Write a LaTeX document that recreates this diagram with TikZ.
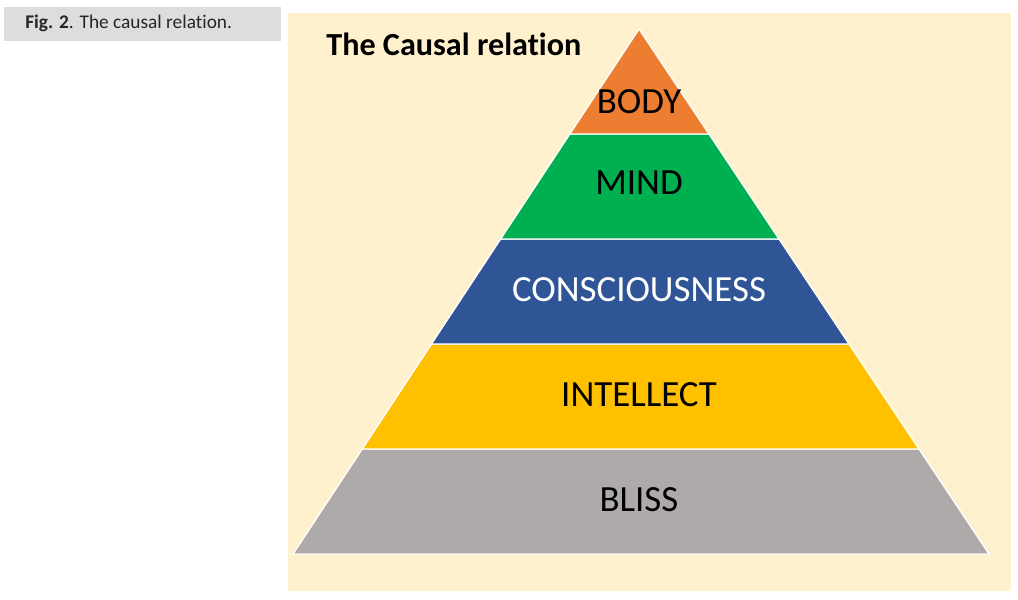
\documentclass[tikz,border=0pt]{standalone}
\usepackage{fontspec}
\setmainfont{Carlito}[Ligatures=CommonOff]
\usetikzlibrary{calc}
\definecolor{panel}{HTML}{FFF1CE}
\definecolor{capgray}{HTML}{DDDDDD}
\definecolor{bodyc}{HTML}{ED7D31}
\definecolor{mindc}{HTML}{00B050}
\definecolor{consc}{HTML}{2F5597}
\definecolor{intc}{HTML}{FFC000}
\definecolor{blissc}{HTML}{AEAAAA}
\tikzstyle{layer}=[draw=white, line width=0.8pt, line join=miter]
\tikzstyle{level}=[font=\fontsize{21}{23}\selectfont, inner sep=0pt]

\begin{document}
\begin{tikzpicture}
    \useasboundingbox (0, 0) rectangle (20.36, 11.98);

    % caption and panel
    \fill[capgray] (0.08, 11.16) rectangle (5.62, 11.84);
    \node[anchor=west, inner sep=0pt, text=black!85, font=\fontsize{11}{13}\selectfont] (caption) at (0.50, 11.52) {\textbf{Fig. 2}. The causal relation.};
    \fill[panel] (5.76, 0.16) rectangle (20.22, 11.72);
    \node[anchor=west, inner sep=0pt, font=\bfseries\fontsize{18.3}{20}\selectfont] (title) at (6.52, 11.10) {The Causal relation};

    % pyramid corners
    \coordinate (apex) at (12.78, 11.40);
    \coordinate (bl) at (5.86, 0.90);
    \coordinate (br) at (19.78, 0.90);

    \coordinate (l1) at ($(apex)!0.2!(bl)$);
    \coordinate (r1) at ($(apex)!0.2!(br)$);
    \coordinate (l2) at ($(apex)!0.4!(bl)$);
    \coordinate (r2) at ($(apex)!0.4!(br)$);
    \coordinate (l3) at ($(apex)!0.6!(bl)$);
    \coordinate (r3) at ($(apex)!0.6!(br)$);
    \coordinate (l4) at ($(apex)!0.8!(bl)$);
    \coordinate (r4) at ($(apex)!0.8!(br)$);

    \filldraw[layer, fill=blissc] (l4) -- (r4) -- (br) -- (bl) -- cycle;
    \filldraw[layer, fill=intc] (l3) -- (r3) -- (r4) -- (l4) -- cycle;
    \filldraw[layer, fill=consc] (l2) -- (r2) -- (r3) -- (l3) -- cycle;
    \filldraw[layer, fill=mindc] (l1) -- (r1) -- (r2) -- (l2) -- cycle;
    \filldraw[layer, fill=bodyc] (apex) -- (r1) -- (l1) -- cycle;

    \node[level] (body) at (12.78, 9.94) {BODY};
    \node[level] (mind) at (12.78, 8.32) {MIND};
    \node[level, text=white] (consciousness) at (12.78, 6.18) {CONSCIOUSNESS};
    \node[level] (intellect) at (12.78, 4.08) {INTELLECT};
    \node[level] (bliss) at (12.78, 1.98) {BLISS};
\end{tikzpicture}
\end{document}
